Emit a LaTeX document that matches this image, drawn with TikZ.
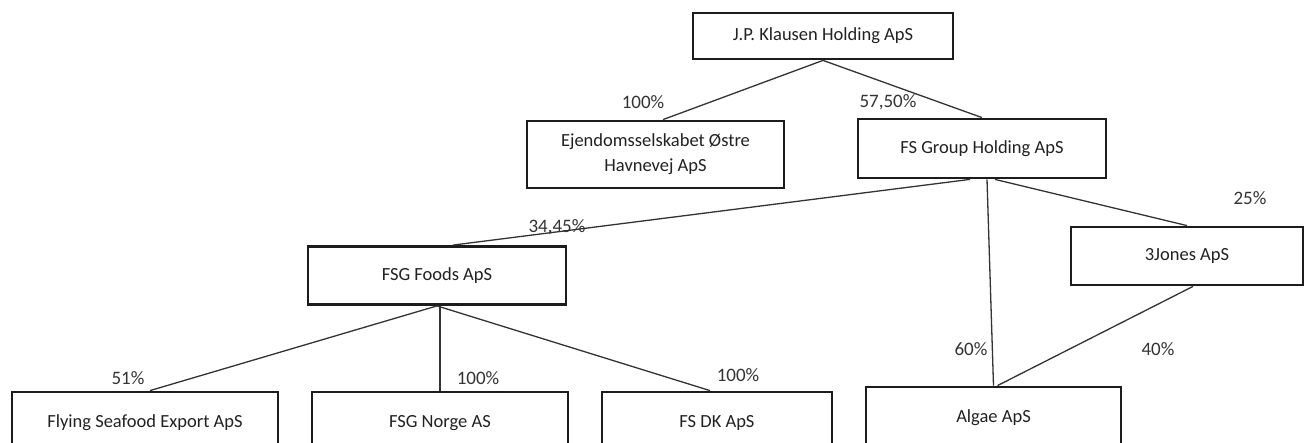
\documentclass[tikz,border=0pt]{standalone}
\usepackage{fontspec}
\setmainfont{Carlito}
\definecolor{txt}{HTML}{222222}
\definecolor{lbl}{HTML}{333333}
\definecolor{edge}{HTML}{1C1C1C}
\definecolor{conn}{HTML}{333333}
\begin{document}
\begin{tikzpicture}[x=1pt,y=-1pt,
  company/.style={draw=edge,line width=2.8pt,fill=white,rectangle,inner sep=0pt,
    text=txt,font=\fontsize{18.5}{25}\selectfont,align=center},
  pct/.style={text=lbl,font=\fontsize{19}{20}\selectfont,inner sep=0pt},
  link/.style={draw=conn,line width=1.3pt}]
\useasboundingbox (0,0) rectangle (1315,443);
\clip (0,0) rectangle (1315,443);
\fill[white] (0,0) rectangle (1315,443);

% boxes
\node[company,minimum width=260pt,minimum height=46pt] (jp) at (823,36) {J.P. Klausen Holding ApS};
\node[company,minimum width=257pt,minimum height=67pt] (ejd) at (655.5,154.5) {Ejendomsselskabet Østre\\Havnevej ApS};
\node[company,minimum width=248pt,minimum height=59pt] (fsg) at (982,148.5) {FS Group Holding ApS};
\node[company,minimum width=258pt,minimum height=58pt] (foods) at (437,275.5) {FSG Foods ApS};
\node[company,minimum width=232pt,minimum height=58pt] (jones) at (1187,256) {3Jones ApS};
\node[company,minimum width=266pt,minimum height=62pt] (fly) at (145,423) {Flying Seafood Export ApS};
\node[company,minimum width=256pt,minimum height=62pt] (norge) at (440,423) {FSG Norge AS};
\node[company,minimum width=230pt,minimum height=62pt] (dk) at (717,423) {FS DK ApS};
\node[company,minimum width=255pt,minimum height=62pt] (algae) at (993.5,418) {Algae ApS};

% connectors
\draw[link] (jp.south) -- ([xshift=7.5pt]ejd.north);
\draw[link] (jp.south) -- (fsg.north);
\draw[link] ([xshift=-12pt]fsg.south) -- ([xshift=16pt]foods.north);
\draw[link] ([xshift=5pt]fsg.south) -- (algae.north);
\draw[link] ([xshift=13pt]fsg.south) -- (jones.north);
\draw[link] ([xshift=6pt]jones.south) -- ([xshift=4pt]algae.north);
\draw[link] (foods.south) -- ([xshift=5pt]fly.north);
\draw[link] ([xshift=3pt]foods.south) -- (norge.north);
\draw[link] (foods.south) -- ([xshift=-7pt]dk.north);

% percentage labels
\node[pct] (p1) at (643,102) {100\%};
\node[pct] (p2) at (888,102) {57,50\%};
\node[pct] (p3) at (557,227) {34,45\%};
\node[pct] (p4) at (1250,198) {25\%};
\node[pct] (p5) at (128,378) {51\%};
\node[pct] (p6) at (478,378) {100\%};
\node[pct] (p7) at (738,375) {100\%};
\node[pct] (p8) at (971,349) {60\%};
\node[pct] (p9) at (1158,349) {40\%};
\end{tikzpicture}
\end{document}
